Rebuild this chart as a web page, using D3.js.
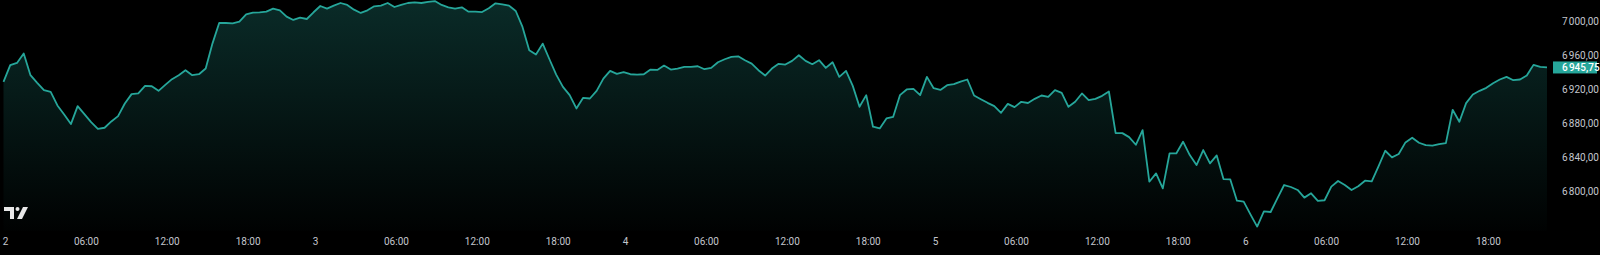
<!DOCTYPE html>
<html>
<head>
<meta charset="utf-8">
<script src="https://cdn.jsdelivr.net/npm/d3@7"></script>
<style>
  html, body { margin: 0; padding: 0; background: #000; }
  svg { display: block; }
  .axis text { fill: #c3c6cd; font-family: Roboto, "Noto Sans", sans-serif; font-size: 10px; }
  .axis.price text { letter-spacing: -0.45px; }
  .axis path, .axis line { display: none; }
</style>
</head>
<body>
<svg id="chart" width="1600" height="255"></svg>
<script>
/*    ========    DATA    =========    */

// 30 minute closes, 46 bars per 23h session
var day2Prices = [
  6928.8, 6948.4, 6951.1, 6962.1, 6936.7, 6927.7, 6919.1, 6917.1, 6901.1, 6890.5,
  6879.2, 6900.3, 6890.9, 6881.5, 6873.7, 6874.9, 6882.3, 6888.6, 6903.4, 6914.4,
  6915.2, 6924.1, 6923.7, 6918.3, 6925.3, 6932.0, 6936.7, 6942.5, 6936.7, 6937.8,
  6944.5, 6973.8, 6998.0, 6998.0, 6997.6, 6999.6, 7008.2, 7010.2, 7010.5, 7011.3,
  7014.9, 7012.9, 7005.5, 7001.6, 7004.3, 7002.7
];
var day3Prices = [
  7010.6, 7018.0, 7014.9, 7018.4, 7021.5, 7019.2, 7013.7, 7009.8, 7012.9, 7017.6,
  7018.4, 7021.5, 7016.8, 7019.2, 7021.5, 7022.3, 7021.5, 7022.7, 7023.8, 7019.2,
  7016.4, 7014.9, 7016.4, 7011.3, 7011.3, 7010.9, 7015.3, 7021.1, 7019.9, 7018.4,
  7012.1, 6993.4, 6966.0, 6960.9, 6973.8, 6955.4, 6937.4, 6923.0, 6913.2, 6897.6,
  6910.1, 6909.3, 6918.3, 6932.7, 6941.7, 6938.2
];
var day4Prices = [
  6940.2, 6937.8, 6937.4, 6937.8, 6943.3, 6942.9, 6948.0, 6943.3, 6944.5, 6946.4,
  6946.4, 6947.2, 6943.7, 6945.2, 6951.9, 6955.4, 6958.2, 6958.9, 6954.2, 6950.3,
  6942.5, 6936.3, 6944.5, 6950.0, 6949.2, 6953.5, 6960.1, 6953.5, 6949.6, 6954.3,
  6945.2, 6951.9, 6934.7, 6941.7, 6924.1, 6899.5, 6913.2, 6876.1, 6874.1, 6885.8,
  6887.8, 6913.2, 6919.9, 6920.6, 6913.2, 6934.7
];
var day5Prices = [
  6921.4, 6919.4, 6924.9, 6926.1, 6929.2, 6931.6, 6912.8, 6908.5, 6904.2, 6900.3,
  6892.5, 6903.0, 6899.1, 6905.4, 6904.0, 6908.9, 6912.8, 6911.2, 6919.1, 6915.9,
  6899.5, 6905.4, 6915.2, 6907.3, 6908.9, 6912.4, 6917.5, 6868.6, 6868.6, 6863.9,
  6854.9, 6872.1, 6811.5, 6821.3, 6803.7, 6844.7, 6844.7, 6858.5, 6842.8, 6831.1,
  6848.7, 6833.0, 6842.4, 6814.6, 6814.3, 6789.2
];
var day6Prices = [
  6788.1, 6773.2, 6758.8, 6776.7, 6775.9, 6792.0, 6807.6, 6805.3, 6801.8, 6792.8,
  6797.9, 6788.9, 6789.7, 6805.7, 6812.3, 6807.6, 6801.8, 6806.1, 6812.7, 6811.9,
  6829.5, 6847.9, 6840.1, 6844.0, 6857.7, 6863.2, 6857.3, 6854.5, 6853.8, 6855.7,
  6856.9, 6896.0, 6881.9, 6903.8, 6914.0, 6918.3, 6921.8, 6927.3, 6931.6, 6934.7,
  6930.8, 6931.6, 6936.3, 6948.8, 6946.4, 6945.75
];

var timeTickBars   = [0, 12, 24, 36, 46, 58, 70, 82, 92, 104, 116, 128, 138, 150, 162, 174, 184, 196, 208, 220];
var timeTickLabels = ["2", "06:00", "12:00", "18:00", "3", "06:00", "12:00", "18:00", "4", "06:00",
                      "12:00", "18:00", "5", "06:00", "12:00", "18:00", "6", "06:00", "12:00", "18:00"];
var priceTicks = [6800, 6840, 6880, 6920, 6960, 7000];

/*    ========    SETTINGS    =========    */

var svg = d3.select('#chart');
var width = 1600;
var height = 255;

var LINE_COLOR = "#26a69a";
var PANE_BOTTOM = 231;

var prices = day2Prices.concat(day3Prices, day4Prices, day5Prices, day6Prices);

var locale = d3.formatLocale({decimal: ",", thousands: "\u202f", grouping: [3], currency: ["", ""]});
var priceFmt = locale.format(",.2f");

var xscale = d3.scaleLinear()
    .domain([0, prices.length - 1])
    .range([3.5, 1547]);
var yscale = d3.scaleLinear()
    .domain([6800, 7000])
    .range([191.5, 21.3]);

var defs = svg.append("defs");

/*    ========    FUNCTIONS    =========    */

function initGradient() {
    var grad = defs.append("linearGradient")
        .attr("id", "areaFill")
        .attr("gradientUnits", "userSpaceOnUse")
        .attr("x1", 0).attr("y1", 0)
        .attr("x2", 0).attr("y2", PANE_BOTTOM);
    grad.append("stop").attr("offset", "0%")
        .attr("stop-color", LINE_COLOR).attr("stop-opacity", 0.26);
    grad.append("stop").attr("offset", "100%")
        .attr("stop-color", LINE_COLOR).attr("stop-opacity", 0.01);
}

function plotSeries() {
    var area = d3.area()
        .x(function(d, i) { return xscale(i); })
        .y0(PANE_BOTTOM)
        .y1(function(d) { return yscale(d); });

    var line = d3.line()
        .x(function(d, i) { return xscale(i); })
        .y(function(d) { return yscale(d); });

    svg.append("path")
        .datum(prices)
        .attr("fill", "url(#areaFill)")
        .attr("d", area);

    svg.append("path")
        .datum(prices)
        .attr("fill", "none")
        .attr("stroke", LINE_COLOR)
        .attr("stroke-width", 1.8)
        .attr("stroke-linejoin", "round")
        .attr("d", line);
}

function initAxes() {
    var xAxis = d3.axisBottom(xscale)
        .tickValues(timeTickBars)
        .tickFormat(function(d, i) { return timeTickLabels[i]; })
        .tickSize(0)
        .tickPadding(0);

    svg.append("g")
        .attr("class", "axis")
        .attr("transform", "translate(1.5, 238)")
        .call(xAxis);

    var yAxis = d3.axisRight(yscale)
        .tickValues(priceTicks)
        .tickFormat(priceFmt)
        .tickSize(0)
        .tickPadding(6);

    svg.append("g")
        .attr("class", "axis price")
        .attr("transform", "translate(1556, 0)")
        .call(yAxis);
}

function lastPriceLabel() {
    var last = prices[prices.length - 1];
    var y = yscale(last);

    svg.append("rect")
        .attr("x", 1553)
        .attr("y", y - 6)
        .attr("width", 44)
        .attr("height", 12)
        .attr("fill", LINE_COLOR);

    svg.append("text")
        .attr("x", 1562)
        .attr("y", y)
        .attr("dy", "0.35em")
        .attr("fill", "#fff")
        .style("font-family", "Roboto, sans-serif")
        .style("font-size", "10px")
        .style("font-weight", 500)
        .style("letter-spacing", "-0.45px")
        .text(priceFmt(last));
}

// little TV mark in the bottom left corner
function drawLogo() {
    var g = svg.append("g")
        .attr("transform", "translate(4, 207)")
        .attr("fill", "#e8e8e8");
    g.append("path").attr("d", "M0 0 H10 V12 H6 V4 H0 Z");
    g.append("circle").attr("cx", 13.5).attr("cy", 2).attr("r", 2);
    g.append("path").attr("d", "M19 0 H24 L18 12 H13 Z");
}

/*    ========    RUN    =========    */

initGradient();
plotSeries();
initAxes();
lastPriceLabel();
drawLogo();
</script>
</body>
</html>
